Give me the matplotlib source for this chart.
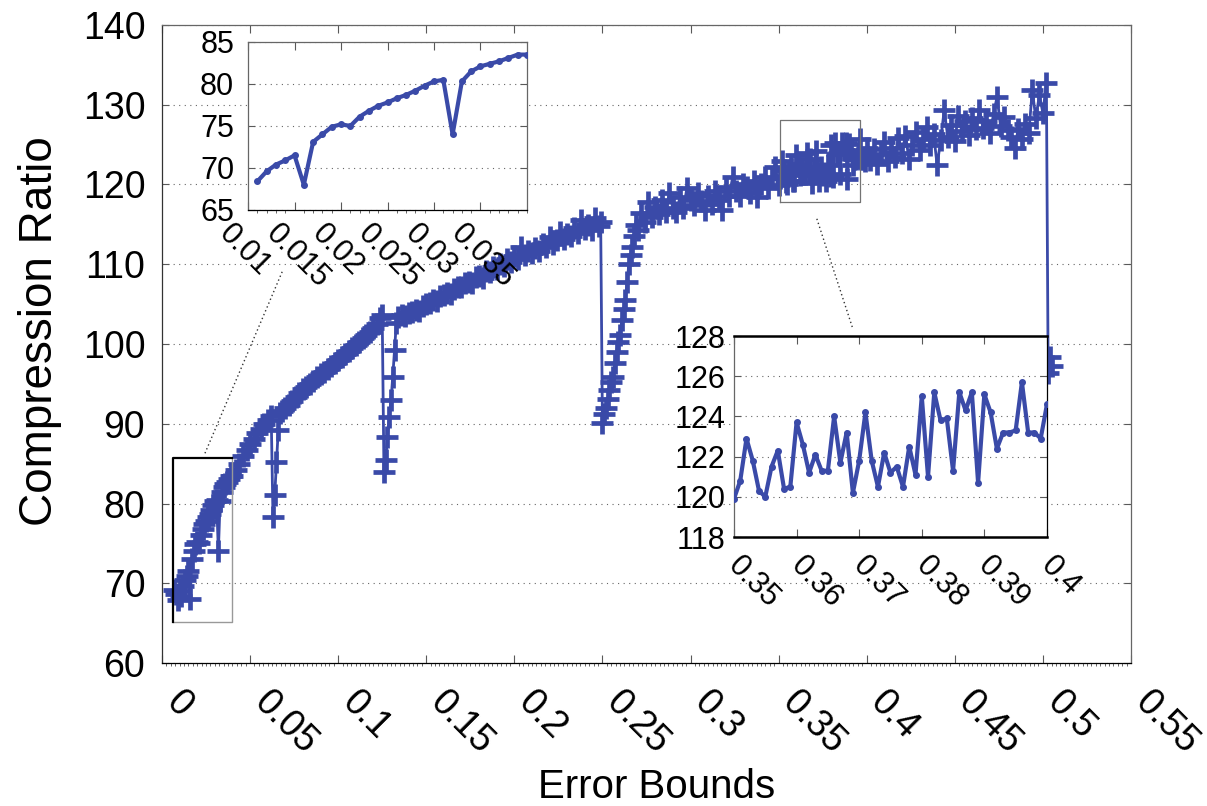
import numpy as np
import matplotlib
matplotlib.use('Agg')
import matplotlib.pyplot as plt
from matplotlib.transforms import ScaledTranslation
from matplotlib.ticker import MultipleLocator

plt.rcParams['font.family'] = ['Liberation Sans', 'DejaVu Sans']

blue = '#3a4aa8'

# ---- data ----
x_start = [0.007, 0.008, 0.009, 0.010]
y_start = [69.2, 68.6, 67.9, 69.0]

# values shown in the upper inset (step 0.001)
x_zoom1 = np.round(np.arange(0.011, 0.0405, 0.001), 3)
y_zoom1 = [68.4, 69.6, 70.4, 70.9, 71.5, 68.0, 73.1, 74.0, 74.9, 75.2,
           75.0, 76.1, 76.8, 77.4, 77.8, 78.3, 78.7, 79.2, 79.8, 80.3,
           80.5, 74.0, 80.3, 81.5, 82.1, 82.4, 82.7, 83.1, 83.5, 83.5]

x_seg_b = np.round(np.arange(0.042, 0.0625, 0.002), 3)
y_seg_b = [84.2, 85.0, 85.9, 86.7, 87.4, 88.1, 88.8, 89.4, 90.0, 90.5, 91.0]

x_dip1 = np.round(np.arange(0.063, 0.0675, 0.001), 3)
y_dip1 = [78.3, 81.1, 85.2, 89.2, 91.4]

x_seg_c = np.round(np.arange(0.068, 0.1245, 0.002), 3)
y_seg_c = [91.6, 92.0, 92.4, 92.9, 93.3, 93.8, 94.3, 94.6, 95.0, 95.4,
           95.8, 96.2, 96.5, 96.9, 97.2, 97.6, 98.0, 98.4, 98.8, 99.1,
           99.5, 99.9, 100.3, 100.7, 101.1, 101.5, 102.0, 102.5, 103.2]

x_dip2 = np.round(np.arange(0.125, 0.1335, 0.001), 3)
y_dip2 = [103.6, 84.0, 85.5, 88.3, 90.8, 93.0, 95.9, 99.2, 102.6]

x_seg_d = np.round(np.arange(0.134, 0.2485, 0.002), 3)
y_seg_d = [103.4, 103.6, 103.5, 103.9, 104.0, 104.3, 104.2, 104.8, 105.0, 105.1,
           105.5, 105.4, 106.0, 106.1, 106.4, 106.3, 106.9, 107.2, 107.1, 107.6,
           107.8, 107.7, 108.4, 108.5, 108.3, 109.1, 109.0, 109.6, 109.4, 110.0,
           109.8, 110.6, 110.3, 111.0, 110.6, 112.1, 111.2, 111.6, 111.4, 112.0,
           111.7, 112.5, 112.2, 113.4, 112.6, 113.0, 114.1, 113.2, 113.8, 113.5,
           114.6, 113.9, 115.6, 114.4, 114.9, 114.3, 115.8, 114.8]

x_dip3 = np.round(np.arange(0.249, 0.2705, 0.001), 3)
y_dip3 = [115.3, 90.1, 91.2, 92.0, 93.1, 94.2, 95.2, 95.9, 97.6, 99.0, 100.2,
          101.1, 103.0, 104.4, 105.5, 107.8, 110.0, 111.2, 112.2, 113.6, 114.9, 114.3]

x_seg_e = np.round(np.arange(0.272, 0.3485, 0.002), 3)
y_seg_e = [116.4, 115.3, 117.8, 115.9, 117.2, 116.3, 118.0, 116.6, 118.9, 117.1,
           116.5, 118.4, 117.0, 119.6, 118.1, 117.4, 118.9, 117.9, 116.8, 118.6,
           117.5, 119.2, 118.0, 116.8, 119.7, 118.6, 121.0, 119.2, 118.5, 120.1,
           119.7, 118.9, 120.5, 118.4, 120.0, 121.0, 119.6, 120.8, 122.2]

# values shown in the lower inset (step 0.001)
x_zoom2 = np.round(np.arange(0.350, 0.4005, 0.001), 3)
y_zoom2 = [119.9, 120.8, 122.9, 121.8, 120.3, 120.0, 121.5, 122.3, 120.4, 120.5,
           123.7, 122.6, 121.2, 122.1, 121.3, 121.3, 124.0, 121.7, 123.2, 120.2,
           121.8, 124.2, 121.8, 120.5, 122.2, 121.2, 121.5, 120.5, 122.5, 121.1,
           125.0, 121.0, 125.2, 123.8, 123.9, 121.3, 125.2, 124.3, 125.2, 120.7,
           125.1, 124.2, 122.4, 123.2, 123.2, 123.3, 125.7, 123.2, 123.2, 122.9,
           124.6]

x_seg_g = np.round(np.arange(0.402, 0.5025, 0.002), 3)
y_seg_g = [123.1, 124.4, 122.6, 123.8, 125.3, 122.9, 124.6, 123.5, 125.8, 124.0,
           126.1, 123.2, 125.0, 126.6, 124.3, 125.7, 127.2, 124.9, 126.3, 122.4,
           125.6, 129.3, 126.0, 127.4, 125.5, 128.6, 126.7, 127.9, 126.2, 128.3,
           126.9, 129.4, 127.1, 128.0, 126.5, 128.8, 131.0, 127.3, 128.5, 126.8,
           125.9, 124.6, 126.9, 125.7, 127.6, 126.4, 131.8, 128.3, 131.2, 129.0,
           132.7]

x_tail = [0.503, 0.504, 0.505]
y_tail = [96.4, 98.4, 97.2]

x_all = np.concatenate([x_start, x_zoom1, x_seg_b, x_dip1, x_seg_c, x_dip2, x_seg_d,
                        x_dip3, x_seg_e, x_zoom2, x_seg_g, x_tail])
y_all = np.concatenate([y_start, y_zoom1, y_seg_b, y_dip1, y_seg_c, y_dip2, y_seg_d,
                        y_dip3, y_seg_e, y_zoom2, y_seg_g, y_tail])

main_xticks = [0, 0.05, 0.1, 0.15, 0.2, 0.25, 0.3, 0.35, 0.4, 0.45, 0.5, 0.55]
main_xlabels = ['0', '0.05', '0.1', '0.15', '0.2', '0.25', '0.3', '0.35', '0.4', '0.45', '0.5', '0.55']
main_yticks = [60, 70, 80, 90, 100, 110, 120, 130, 140]

zoom1_xticks = [0.01, 0.015, 0.02, 0.025, 0.03, 0.035]
zoom1_xlabels = ['0.01', '0.015', '0.02', '0.025', '0.03', '0.035']
zoom1_yticks = [65, 70, 75, 80, 85]

zoom2_xticks = [0.35, 0.36, 0.37, 0.38, 0.39, 0.40]
zoom2_xlabels = ['0.35', '0.36', '0.37', '0.38', '0.39', '0.4']
zoom2_yticks = [118, 120, 122, 124, 126, 128]

fig = plt.figure(figsize=(12.07, 8.06), dpi=100)


def style_axes(ax, xticks, xlabels, yticks, fs, dx, xpad, ypad, minor):
    ax.set_xticks(xticks)
    ax.set_xticklabels(xlabels, rotation=-45, ha='left', va='top',
                       rotation_mode='anchor', fontsize=fs)
    ax.set_yticks(yticks)
    ax.set_yticklabels([str(v) for v in yticks], fontsize=fs)
    ax.xaxis.set_minor_locator(MultipleLocator(minor))
    ax.tick_params(axis='x', which='major', direction='in', top=True, length=6,
                   width=0.8, color='0.35', pad=xpad)
    ax.tick_params(axis='x', which='minor', direction='out', top=False, length=2,
                   width=0.6, color='0.3')
    ax.tick_params(axis='y', which='major', direction='in', right=True, length=5,
                   width=0.8, color='0.35', pad=ypad)
    shift = ScaledTranslation(dx / 100, 0, fig.dpi_scale_trans)
    for lab in ax.get_xticklabels():
        lab.set_transform(lab.get_transform() + shift)
    for t in yticks:
        ax.axhline(t, color='0.4', lw=0.8, ls=(0, (1, 4)), zorder=0)
    for s in ax.spines.values():
        s.set_color('0.4')
        s.set_linewidth(0.9)
    ax.spines['bottom'].set_color('black')


# ---- main axes ----
ax = fig.add_axes([0.1342, 0.1774, 0.8028, 0.7916])
ax.plot(x_all, y_all, color=blue, lw=2.0, marker='+', ms=16, mew=3.4, zorder=3)
ax.set_xlim(0, 0.55)
ax.set_ylim(60, 140)
style_axes(ax, main_xticks, main_xlabels, main_yticks, 27, 22, 15, 12, 0.0025)
ax.spines['left'].set_color('0.2')
ax.set_xlabel('Error Bounds', fontsize=29, va='top')
ax.xaxis.set_label_coords(0.51, -0.165)
ax.set_ylabel('Compression Ratio', fontsize=33, va='bottom')
ax.yaxis.set_label_coords(-0.103, 0.52)

# zoom boxes on the main plot
ax.plot([0.04, 0.04, 0.006], [85.7, 65.1, 65.1], color='0.6', lw=1, zorder=4)
ax.plot([0.006, 0.006, 0.04], [65.1, 85.7, 85.7], color='black', lw=1.6, zorder=4)
ax.plot([0.351, 0.396, 0.396, 0.351, 0.351], [117.8, 117.8, 128.1, 128.1, 117.8],
        color='0.45', lw=0.9, zorder=4)
# dotted connectors
ax.plot([0.0244, 0.0687], [86.3, 109.3], color='0.2', lw=1, ls=(0, (1, 2)), zorder=4)
ax.plot([0.3717, 0.392], [115.7, 102.0], color='0.2', lw=1, ls=(0, (1, 2)), zorder=4)

# ---- upper inset ----
ax1 = fig.add_axes([0.2055, 0.7395, 0.2311, 0.2084], zorder=5)
ax1.set_facecolor('white')
ax1.plot(x_zoom1, y_zoom1, color=blue, lw=3.0, marker='o', ms=4, zorder=3)
ax1.set_xlim(0.01, 0.04)
ax1.set_ylim(65, 85)
style_axes(ax1, zoom1_xticks, zoom1_xlabels, zoom1_yticks, 22, -14, 6, 10, 0.001)

# ---- lower inset ----
ax2 = fig.add_axes([0.6081, 0.3337, 0.2593, 0.2494], zorder=5)
ax2.set_facecolor('white')
ax2.plot(x_zoom2, y_zoom2, color=blue, lw=3.0, marker='o', ms=4, zorder=3)
ax2.set_xlim(0.35, 0.40)
ax2.set_ylim(118, 128)
style_axes(ax2, zoom2_xticks, zoom2_xlabels, zoom2_yticks, 22, 9, 10, 6, 0.01)
ax2.spines['top'].set_color('black')
ax2.spines['top'].set_linewidth(1.8)
ax2.spines['bottom'].set_linewidth(1.8)
ax2.spines['right'].set_color('black')

fig.savefig('out.png', dpi=100)
